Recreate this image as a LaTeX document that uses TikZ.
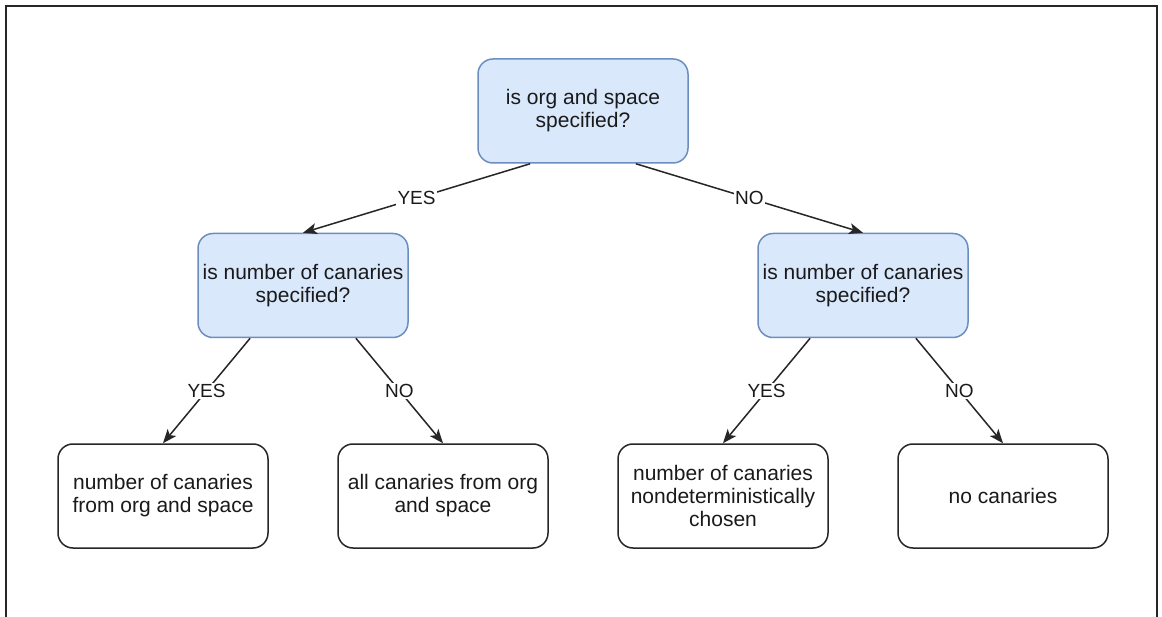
\documentclass[tikz,border=0pt]{standalone}
\usepackage{fontspec}
\setmainfont{Liberation Sans}
\usetikzlibrary{calc,arrows.meta}
\definecolor{qfill}{HTML}{DAE8FC}
\definecolor{qdraw}{HTML}{6C8EBF}
\definecolor{txt}{HTML}{1A1A1A}
\begin{document}
\begin{tikzpicture}[x=1pt,y=-1pt,
  box/.style={rectangle, rounded corners=15pt, minimum width=210pt, minimum height=104pt,
    align=center, text=txt, line width=1.5pt, font=\fontsize{21}{23}\selectfont, inner sep=0pt},
  qbox/.style={box, draw=qdraw, fill=qfill},
  abox/.style={box, draw=black!85, fill=white},
  conn/.style={draw=black!85, line width=1.5pt, -{Stealth[length=14pt,width=11pt,inset=3.5pt]}},
  lbl/.style={fill=white, text=txt, inner sep=1.5pt, font=\fontsize{19}{20}\selectfont}
]
\useasboundingbox (0,0) rectangle (1162,617);
\fill[white] (0,0) rectangle (1162,617);
\draw[line width=2.5pt, black!85] (6,620) -- (6,6) -- (1157,6) -- (1157,620);

\node[qbox] (top) at (583,111) {is org and space\\specified?};
\node[qbox] (ql) at (303,285.5) {is number of canaries\\specified?};
\node[qbox] (qr) at (863,285.5) {is number of canaries\\specified?};
\node[abox] (a1) at (163,496) {number of canaries\\from org and space};
\node[abox] (a2) at (443,496) {all canaries from org\\and space};
\node[abox] (a3) at (723,496) {number of canaries\\nondeterministically\\chosen};
\node[abox] (a4) at (1003,496) {no canaries};

\draw[conn] ($(top.south west)!0.25!(top.south east)$) -- node[lbl] {YES} (ql.north);
\draw[conn] ($(top.south west)!0.75!(top.south east)$) -- node[lbl] {NO} (qr.north);
\draw[conn] ($(ql.south west)!0.25!(ql.south east)$) -- node[lbl] {YES} (a1.north);
\draw[conn] ($(ql.south west)!0.75!(ql.south east)$) -- node[lbl] {NO} (a2.north);
\draw[conn] ($(qr.south west)!0.25!(qr.south east)$) -- node[lbl] {YES} (a3.north);
\draw[conn] ($(qr.south west)!0.75!(qr.south east)$) -- node[lbl] {NO} (a4.north);
\end{tikzpicture}
\end{document}
